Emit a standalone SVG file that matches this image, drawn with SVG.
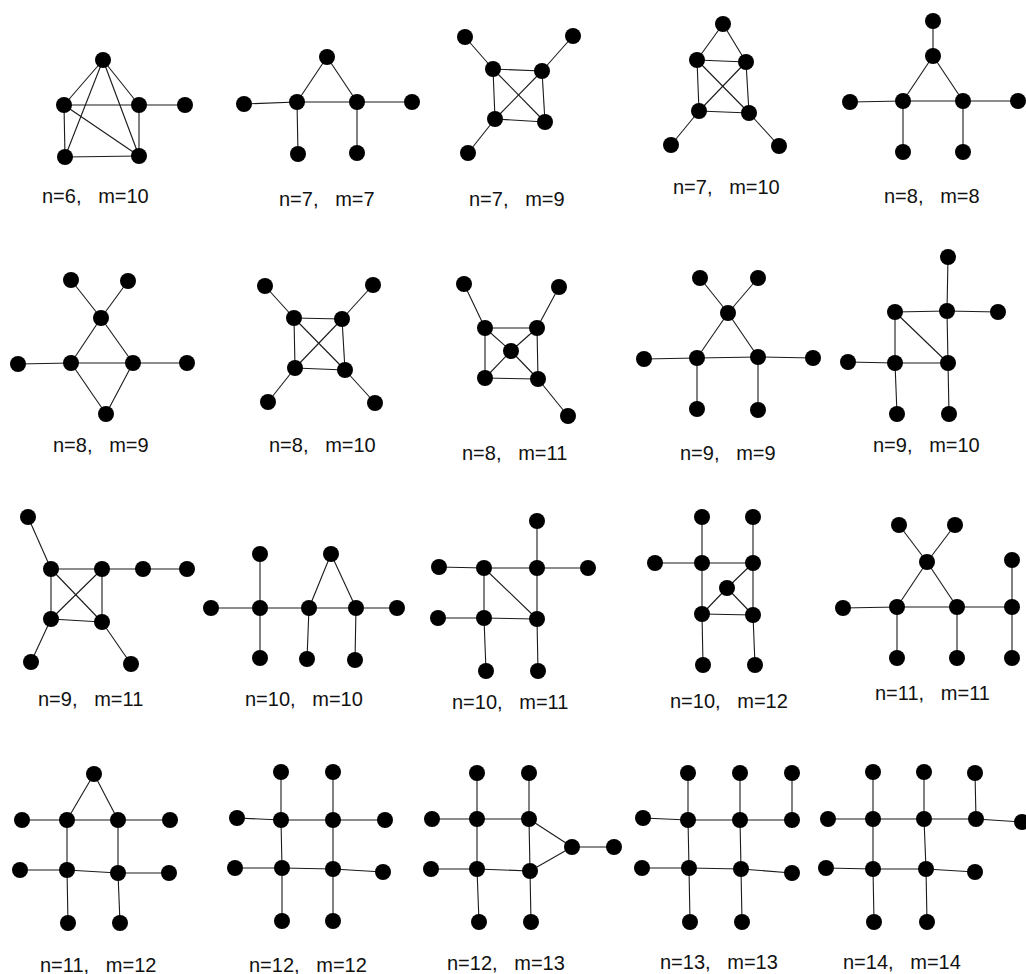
<svg xmlns="http://www.w3.org/2000/svg" width="1026" height="974" viewBox="0 0 1026 974">
<style>
.e line{stroke:#1a1a1a;stroke-width:1.1}
circle{fill:#000}
text{font-family:"Liberation Sans",Arial,sans-serif;font-size:20px;fill:#111;white-space:pre}
</style>
<rect width="1026" height="974" fill="#fff"/>
<g id="connectors" class="e">
<line x1="103" y1="60" x2="64" y2="105"/><line x1="103" y1="60" x2="139" y2="105"/><line x1="103" y1="60" x2="65" y2="157"/><line x1="103" y1="60" x2="139" y2="156"/><line x1="64" y1="105" x2="139" y2="105"/><line x1="64" y1="105" x2="65" y2="157"/><line x1="64" y1="105" x2="139" y2="156"/><line x1="139" y1="105" x2="139" y2="156"/><line x1="65" y1="157" x2="139" y2="156"/><line x1="139" y1="105" x2="185" y2="105"/>
<line x1="244" y1="104" x2="297" y2="102"/><line x1="297" y1="102" x2="357" y2="102"/><line x1="357" y1="102" x2="412" y2="102"/><line x1="297" y1="102" x2="327" y2="57"/><line x1="327" y1="57" x2="357" y2="102"/><line x1="297" y1="102" x2="298" y2="154"/><line x1="357" y1="102" x2="357" y2="153"/>
<line x1="465" y1="37" x2="493" y2="69"/><line x1="573" y1="36" x2="542" y2="71"/><line x1="468" y1="153" x2="495" y2="119"/><line x1="493" y1="69" x2="542" y2="71"/><line x1="493" y1="69" x2="495" y2="119"/><line x1="542" y1="71" x2="545" y2="122"/><line x1="495" y1="119" x2="545" y2="122"/><line x1="493" y1="69" x2="545" y2="122"/><line x1="542" y1="71" x2="495" y2="119"/>
<line x1="723" y1="24" x2="697" y2="60"/><line x1="723" y1="24" x2="746" y2="62"/><line x1="697" y1="60" x2="746" y2="62"/><line x1="697" y1="60" x2="699" y2="111"/><line x1="746" y1="62" x2="749" y2="113"/><line x1="699" y1="111" x2="749" y2="113"/><line x1="697" y1="60" x2="749" y2="113"/><line x1="746" y1="62" x2="699" y2="111"/><line x1="699" y1="111" x2="671" y2="145"/><line x1="749" y1="113" x2="779" y2="146"/>
<line x1="933" y1="21" x2="933" y2="56"/><line x1="933" y1="56" x2="903" y2="101"/><line x1="933" y1="56" x2="963" y2="101"/><line x1="903" y1="101" x2="963" y2="101"/><line x1="850" y1="102" x2="903" y2="101"/><line x1="963" y1="101" x2="1018" y2="101"/><line x1="903" y1="101" x2="903" y2="152"/><line x1="963" y1="101" x2="963" y2="152"/>
<line x1="71" y1="280" x2="101" y2="318"/><line x1="128" y1="281" x2="101" y2="318"/><line x1="101" y1="318" x2="71" y2="363"/><line x1="101" y1="318" x2="133" y2="363"/><line x1="71" y1="363" x2="133" y2="363"/><line x1="18" y1="364" x2="71" y2="363"/><line x1="133" y1="363" x2="187" y2="363"/><line x1="71" y1="363" x2="106" y2="414"/><line x1="133" y1="363" x2="106" y2="414"/>
<line x1="265" y1="286" x2="294" y2="318"/><line x1="373" y1="285" x2="342" y2="319"/><line x1="295" y1="368" x2="268" y2="402"/><line x1="345" y1="370" x2="375" y2="403"/><line x1="294" y1="318" x2="342" y2="319"/><line x1="294" y1="318" x2="295" y2="368"/><line x1="342" y1="319" x2="345" y2="370"/><line x1="295" y1="368" x2="345" y2="370"/><line x1="294" y1="318" x2="345" y2="370"/><line x1="342" y1="319" x2="295" y2="368"/>
<line x1="464" y1="284" x2="485" y2="328"/><line x1="559" y1="287" x2="537" y2="328"/><line x1="538" y1="379" x2="568" y2="416"/><line x1="485" y1="328" x2="537" y2="328"/><line x1="485" y1="328" x2="485" y2="378"/><line x1="537" y1="328" x2="538" y2="379"/><line x1="485" y1="378" x2="538" y2="379"/><line x1="511" y1="351" x2="485" y2="328"/><line x1="511" y1="351" x2="537" y2="328"/><line x1="511" y1="351" x2="485" y2="378"/><line x1="511" y1="351" x2="538" y2="379"/>
<line x1="700" y1="278" x2="728" y2="313"/><line x1="758" y1="278" x2="728" y2="313"/><line x1="728" y1="313" x2="697" y2="358"/><line x1="728" y1="313" x2="758" y2="357"/><line x1="697" y1="358" x2="758" y2="357"/><line x1="644" y1="359" x2="697" y2="358"/><line x1="758" y1="357" x2="813" y2="358"/><line x1="697" y1="358" x2="697" y2="409"/><line x1="758" y1="357" x2="758" y2="410"/>
<line x1="948" y1="257" x2="947" y2="311"/><line x1="947" y1="311" x2="998" y2="312"/><line x1="895" y1="312" x2="947" y2="311"/><line x1="895" y1="312" x2="895" y2="363"/><line x1="895" y1="312" x2="948" y2="363"/><line x1="895" y1="363" x2="948" y2="363"/><line x1="947" y1="311" x2="948" y2="363"/><line x1="848" y1="362" x2="895" y2="363"/><line x1="895" y1="363" x2="897" y2="414"/><line x1="948" y1="363" x2="949" y2="414"/>
<line x1="28" y1="517" x2="51" y2="569"/><line x1="51" y1="569" x2="102" y2="569"/><line x1="102" y1="569" x2="143" y2="569"/><line x1="143" y1="569" x2="187" y2="569"/><line x1="51" y1="569" x2="51" y2="619"/><line x1="102" y1="569" x2="102" y2="622"/><line x1="51" y1="619" x2="102" y2="622"/><line x1="51" y1="569" x2="102" y2="622"/><line x1="102" y1="569" x2="51" y2="619"/><line x1="51" y1="619" x2="31" y2="662"/><line x1="102" y1="622" x2="131" y2="664"/>
<line x1="211" y1="608" x2="260" y2="608"/><line x1="260" y1="608" x2="260" y2="554"/><line x1="260" y1="608" x2="260" y2="658"/><line x1="260" y1="608" x2="309" y2="608"/><line x1="309" y1="608" x2="307" y2="659"/><line x1="309" y1="608" x2="331" y2="554"/><line x1="331" y1="554" x2="356" y2="608"/><line x1="309" y1="608" x2="356" y2="608"/><line x1="356" y1="608" x2="355" y2="660"/><line x1="356" y1="608" x2="397" y2="608"/>
<line x1="537" y1="521" x2="537" y2="568"/><line x1="537" y1="568" x2="588" y2="568"/><line x1="484" y1="568" x2="537" y2="568"/><line x1="439" y1="567" x2="484" y2="568"/><line x1="484" y1="568" x2="484" y2="618"/><line x1="484" y1="568" x2="537" y2="619"/><line x1="537" y1="568" x2="537" y2="619"/><line x1="438" y1="618" x2="484" y2="618"/><line x1="484" y1="618" x2="537" y2="619"/><line x1="484" y1="618" x2="486" y2="671"/><line x1="537" y1="619" x2="538" y2="671"/>
<line x1="702" y1="517" x2="702" y2="563"/><line x1="753" y1="517" x2="753" y2="563"/><line x1="655" y1="563" x2="702" y2="563"/><line x1="702" y1="563" x2="753" y2="563"/><line x1="702" y1="563" x2="702" y2="614"/><line x1="753" y1="563" x2="753" y2="615"/><line x1="702" y1="614" x2="753" y2="615"/><line x1="727" y1="588" x2="753" y2="563"/><line x1="727" y1="588" x2="702" y2="614"/><line x1="727" y1="588" x2="753" y2="615"/><line x1="702" y1="614" x2="703" y2="665"/><line x1="753" y1="615" x2="755" y2="665"/>
<line x1="899" y1="525" x2="927" y2="562"/><line x1="955" y1="525" x2="927" y2="562"/><line x1="927" y1="562" x2="897" y2="607"/><line x1="927" y1="562" x2="957" y2="607"/><line x1="897" y1="607" x2="957" y2="607"/><line x1="957" y1="607" x2="1012" y2="607"/><line x1="843" y1="608" x2="897" y2="607"/><line x1="897" y1="607" x2="897" y2="658"/><line x1="957" y1="607" x2="957" y2="658"/><line x1="1012" y1="607" x2="1012" y2="560"/><line x1="1012" y1="607" x2="1012" y2="658"/>
<line x1="94" y1="774" x2="67" y2="820"/><line x1="94" y1="774" x2="118" y2="820"/><line x1="67" y1="820" x2="118" y2="820"/><line x1="22" y1="820" x2="67" y2="820"/><line x1="118" y1="820" x2="170" y2="820"/><line x1="67" y1="820" x2="67" y2="870"/><line x1="118" y1="820" x2="118" y2="873"/><line x1="67" y1="870" x2="118" y2="873"/><line x1="20" y1="870" x2="67" y2="870"/><line x1="118" y1="873" x2="169" y2="873"/><line x1="67" y1="870" x2="68" y2="923"/><line x1="118" y1="873" x2="120" y2="923"/>
<line x1="281" y1="772" x2="281" y2="820"/><line x1="333" y1="772" x2="333" y2="820"/><line x1="237" y1="818" x2="281" y2="820"/><line x1="281" y1="820" x2="333" y2="820"/><line x1="333" y1="820" x2="385" y2="820"/><line x1="281" y1="820" x2="282" y2="868"/><line x1="333" y1="820" x2="333" y2="869"/><line x1="282" y1="868" x2="333" y2="869"/><line x1="235" y1="868" x2="282" y2="868"/><line x1="333" y1="869" x2="383" y2="872"/><line x1="282" y1="868" x2="282" y2="921"/><line x1="333" y1="869" x2="333" y2="921"/>
<line x1="477" y1="773" x2="477" y2="819"/><line x1="529" y1="773" x2="529" y2="819"/><line x1="432" y1="819" x2="477" y2="819"/><line x1="477" y1="819" x2="529" y2="819"/><line x1="477" y1="819" x2="477" y2="869"/><line x1="529" y1="819" x2="530" y2="871"/><line x1="431" y1="869" x2="477" y2="869"/><line x1="477" y1="869" x2="530" y2="871"/><line x1="529" y1="819" x2="572" y2="847"/><line x1="530" y1="871" x2="572" y2="847"/><line x1="572" y1="847" x2="614" y2="847"/><line x1="477" y1="869" x2="479" y2="922"/><line x1="530" y1="871" x2="531" y2="922"/>
<line x1="688" y1="773" x2="688" y2="820"/><line x1="740" y1="773" x2="740" y2="820"/><line x1="792" y1="773" x2="792" y2="820"/><line x1="688" y1="820" x2="740" y2="820"/><line x1="740" y1="820" x2="792" y2="820"/><line x1="643" y1="818" x2="688" y2="820"/><line x1="688" y1="820" x2="689" y2="868"/><line x1="740" y1="820" x2="741" y2="869"/><line x1="689" y1="868" x2="741" y2="869"/><line x1="642" y1="868" x2="689" y2="868"/><line x1="741" y1="869" x2="792" y2="873"/><line x1="689" y1="868" x2="690" y2="922"/><line x1="741" y1="869" x2="742" y2="922"/>
<line x1="873" y1="772" x2="873" y2="819"/><line x1="924" y1="772" x2="924" y2="819"/><line x1="975" y1="773" x2="976" y2="819"/><line x1="873" y1="819" x2="924" y2="819"/><line x1="924" y1="819" x2="976" y2="819"/><line x1="976" y1="819" x2="1022" y2="822"/><line x1="828" y1="819" x2="873" y2="819"/><line x1="873" y1="819" x2="873" y2="869"/><line x1="924" y1="819" x2="926" y2="869"/><line x1="873" y1="869" x2="926" y2="869"/><line x1="826" y1="868" x2="873" y2="869"/><line x1="926" y1="869" x2="975" y2="872"/><line x1="873" y1="869" x2="874" y2="922"/><line x1="926" y1="869" x2="927" y2="922"/>
</g>
<g id="graph1">
<g id="g1-a"><circle cx="103" cy="60" r="8"/></g><g id="g1-b"><circle cx="64" cy="105" r="8"/></g><g id="g1-c"><circle cx="139" cy="105" r="8"/></g><g id="g1-d"><circle cx="185" cy="105" r="8"/></g><g id="g1-e"><circle cx="65" cy="157" r="8"/></g><g id="g1-f"><circle cx="139" cy="156" r="8"/></g>
<text x="42" y="203">n=6,   m=10</text>
</g>
<g id="graph2">
<g id="g2-a"><circle cx="244" cy="104" r="8"/></g><g id="g2-b"><circle cx="297" cy="102" r="8"/></g><g id="g2-c"><circle cx="327" cy="57" r="8"/></g><g id="g2-d"><circle cx="357" cy="102" r="8"/></g><g id="g2-e"><circle cx="412" cy="102" r="8"/></g><g id="g2-f"><circle cx="298" cy="154" r="8"/></g><g id="g2-g"><circle cx="357" cy="153" r="8"/></g>
<text x="279" y="206">n=7,   m=7</text>
</g>
<g id="graph3">
<g id="g3-a"><circle cx="465" cy="37" r="8"/></g><g id="g3-b"><circle cx="573" cy="36" r="8"/></g><g id="g3-c"><circle cx="493" cy="69" r="8"/></g><g id="g3-d"><circle cx="542" cy="71" r="8"/></g><g id="g3-e"><circle cx="495" cy="119" r="8"/></g><g id="g3-f"><circle cx="545" cy="122" r="8"/></g><g id="g3-g"><circle cx="468" cy="153" r="8"/></g>
<text x="469" y="206">n=7,   m=9</text>
</g>
<g id="graph4">
<g id="g4-a"><circle cx="723" cy="24" r="8"/></g><g id="g4-b"><circle cx="697" cy="60" r="8"/></g><g id="g4-c"><circle cx="746" cy="62" r="8"/></g><g id="g4-d"><circle cx="699" cy="111" r="8"/></g><g id="g4-e"><circle cx="749" cy="113" r="8"/></g><g id="g4-f"><circle cx="671" cy="145" r="8"/></g><g id="g4-g"><circle cx="779" cy="146" r="8"/></g>
<text x="673" y="194">n=7,   m=10</text>
</g>
<g id="graph5">
<g id="g5-a"><circle cx="933" cy="21" r="8"/></g><g id="g5-b"><circle cx="933" cy="56" r="8"/></g><g id="g5-c"><circle cx="903" cy="101" r="8"/></g><g id="g5-d"><circle cx="963" cy="101" r="8"/></g><g id="g5-e"><circle cx="850" cy="102" r="8"/></g><g id="g5-f"><circle cx="1018" cy="101" r="8"/></g><g id="g5-g"><circle cx="903" cy="152" r="8"/></g><g id="g5-h"><circle cx="963" cy="152" r="8"/></g>
<text x="884" y="203">n=8,   m=8</text>
</g>
<g id="graph6">
<g id="g6-a"><circle cx="71" cy="280" r="8"/></g><g id="g6-b"><circle cx="128" cy="281" r="8"/></g><g id="g6-c"><circle cx="101" cy="318" r="8"/></g><g id="g6-d"><circle cx="71" cy="363" r="8"/></g><g id="g6-e"><circle cx="133" cy="363" r="8"/></g><g id="g6-f"><circle cx="18" cy="364" r="8"/></g><g id="g6-g"><circle cx="187" cy="363" r="8"/></g><g id="g6-h"><circle cx="106" cy="414" r="8"/></g>
<text x="53" y="452">n=8,   m=9</text>
</g>
<g id="graph7">
<g id="g7-a"><circle cx="265" cy="286" r="8"/></g><g id="g7-b"><circle cx="373" cy="285" r="8"/></g><g id="g7-c"><circle cx="294" cy="318" r="8"/></g><g id="g7-d"><circle cx="342" cy="319" r="8"/></g><g id="g7-e"><circle cx="295" cy="368" r="8"/></g><g id="g7-f"><circle cx="345" cy="370" r="8"/></g><g id="g7-g"><circle cx="268" cy="402" r="8"/></g><g id="g7-h"><circle cx="375" cy="403" r="8"/></g>
<text x="269" y="452">n=8,   m=10</text>
</g>
<g id="graph8">
<g id="g8-a"><circle cx="464" cy="284" r="8"/></g><g id="g8-b"><circle cx="559" cy="287" r="8"/></g><g id="g8-c"><circle cx="485" cy="328" r="8"/></g><g id="g8-d"><circle cx="537" cy="328" r="8"/></g><g id="g8-e"><circle cx="511" cy="351" r="8"/></g><g id="g8-f"><circle cx="485" cy="378" r="8"/></g><g id="g8-g"><circle cx="538" cy="379" r="8"/></g><g id="g8-h"><circle cx="568" cy="416" r="8"/></g>
<text x="462" y="460">n=8,   m=11</text>
</g>
<g id="graph9">
<g id="g9-a"><circle cx="700" cy="278" r="8"/></g><g id="g9-b"><circle cx="758" cy="278" r="8"/></g><g id="g9-c"><circle cx="728" cy="313" r="8"/></g><g id="g9-d"><circle cx="697" cy="358" r="8"/></g><g id="g9-e"><circle cx="758" cy="357" r="8"/></g><g id="g9-f"><circle cx="644" cy="359" r="8"/></g><g id="g9-g"><circle cx="813" cy="358" r="8"/></g><g id="g9-h"><circle cx="697" cy="409" r="8"/></g><g id="g9-i"><circle cx="758" cy="410" r="8"/></g>
<text x="680" y="460">n=9,   m=9</text>
</g>
<g id="graph10">
<g id="g10-a"><circle cx="948" cy="257" r="8"/></g><g id="g10-b"><circle cx="947" cy="311" r="8"/></g><g id="g10-c"><circle cx="998" cy="312" r="8"/></g><g id="g10-d"><circle cx="895" cy="312" r="8"/></g><g id="g10-e"><circle cx="895" cy="363" r="8"/></g><g id="g10-f"><circle cx="948" cy="363" r="8"/></g><g id="g10-g"><circle cx="848" cy="362" r="8"/></g><g id="g10-h"><circle cx="897" cy="414" r="8"/></g><g id="g10-i"><circle cx="949" cy="414" r="8"/></g>
<text x="873" y="452">n=9,   m=10</text>
</g>
<g id="graph11">
<g id="g11-a"><circle cx="28" cy="517" r="8"/></g><g id="g11-b"><circle cx="51" cy="569" r="8"/></g><g id="g11-c"><circle cx="102" cy="569" r="8"/></g><g id="g11-d"><circle cx="51" cy="619" r="8"/></g><g id="g11-e"><circle cx="102" cy="622" r="8"/></g><g id="g11-f"><circle cx="143" cy="569" r="8"/></g><g id="g11-g"><circle cx="187" cy="569" r="8"/></g><g id="g11-h"><circle cx="31" cy="662" r="8"/></g><g id="g11-i"><circle cx="131" cy="664" r="8"/></g>
<text x="38" y="706">n=9,   m=11</text>
</g>
<g id="graph12">
<g id="g12-a"><circle cx="211" cy="608" r="8"/></g><g id="g12-b"><circle cx="260" cy="608" r="8"/></g><g id="g12-c"><circle cx="260" cy="554" r="8"/></g><g id="g12-d"><circle cx="260" cy="658" r="8"/></g><g id="g12-e"><circle cx="309" cy="608" r="8"/></g><g id="g12-f"><circle cx="307" cy="659" r="8"/></g><g id="g12-g"><circle cx="331" cy="554" r="8"/></g><g id="g12-h"><circle cx="356" cy="608" r="8"/></g><g id="g12-i"><circle cx="355" cy="660" r="8"/></g><g id="g12-j"><circle cx="397" cy="608" r="8"/></g>
<text x="245" y="706">n=10,   m=10</text>
</g>
<g id="graph13">
<g id="g13-a"><circle cx="537" cy="521" r="8"/></g><g id="g13-b"><circle cx="537" cy="568" r="8"/></g><g id="g13-c"><circle cx="588" cy="568" r="8"/></g><g id="g13-d"><circle cx="484" cy="568" r="8"/></g><g id="g13-e"><circle cx="439" cy="567" r="8"/></g><g id="g13-f"><circle cx="484" cy="618" r="8"/></g><g id="g13-g"><circle cx="438" cy="618" r="8"/></g><g id="g13-h"><circle cx="537" cy="619" r="8"/></g><g id="g13-i"><circle cx="486" cy="671" r="8"/></g><g id="g13-j"><circle cx="538" cy="671" r="8"/></g>
<text x="452" y="709">n=10,   m=11</text>
</g>
<g id="graph14">
<g id="g14-a"><circle cx="655" cy="563" r="8"/></g><g id="g14-b"><circle cx="702" cy="563" r="8"/></g><g id="g14-c"><circle cx="753" cy="563" r="8"/></g><g id="g14-d"><circle cx="702" cy="517" r="8"/></g><g id="g14-e"><circle cx="753" cy="517" r="8"/></g><g id="g14-f"><circle cx="727" cy="588" r="8"/></g><g id="g14-g"><circle cx="702" cy="614" r="8"/></g><g id="g14-h"><circle cx="753" cy="615" r="8"/></g><g id="g14-i"><circle cx="703" cy="665" r="8"/></g><g id="g14-j"><circle cx="755" cy="665" r="8"/></g>
<text x="670" y="708">n=10,   m=12</text>
</g>
<g id="graph15">
<g id="g15-a"><circle cx="899" cy="525" r="8"/></g><g id="g15-b"><circle cx="955" cy="525" r="8"/></g><g id="g15-c"><circle cx="927" cy="562" r="8"/></g><g id="g15-d"><circle cx="897" cy="607" r="8"/></g><g id="g15-e"><circle cx="957" cy="607" r="8"/></g><g id="g15-f"><circle cx="843" cy="608" r="8"/></g><g id="g15-g"><circle cx="1012" cy="607" r="8"/></g><g id="g15-h"><circle cx="1012" cy="560" r="8"/></g><g id="g15-i"><circle cx="897" cy="658" r="8"/></g><g id="g15-j"><circle cx="957" cy="658" r="8"/></g><g id="g15-k"><circle cx="1012" cy="658" r="8"/></g>
<text x="875" y="700">n=11,   m=11</text>
</g>
<g id="graph16">
<g id="g16-a"><circle cx="94" cy="774" r="8"/></g><g id="g16-b"><circle cx="67" cy="820" r="8"/></g><g id="g16-c"><circle cx="118" cy="820" r="8"/></g><g id="g16-d"><circle cx="22" cy="820" r="8"/></g><g id="g16-e"><circle cx="170" cy="820" r="8"/></g><g id="g16-f"><circle cx="67" cy="870" r="8"/></g><g id="g16-g"><circle cx="118" cy="873" r="8"/></g><g id="g16-h"><circle cx="20" cy="870" r="8"/></g><g id="g16-i"><circle cx="169" cy="873" r="8"/></g><g id="g16-j"><circle cx="68" cy="923" r="8"/></g><g id="g16-k"><circle cx="120" cy="923" r="8"/></g>
<text x="40" y="972">n=11,   m=12</text>
</g>
<g id="graph17">
<g id="g17-a"><circle cx="281" cy="772" r="8"/></g><g id="g17-b"><circle cx="333" cy="772" r="8"/></g><g id="g17-c"><circle cx="281" cy="820" r="8"/></g><g id="g17-d"><circle cx="333" cy="820" r="8"/></g><g id="g17-e"><circle cx="237" cy="818" r="8"/></g><g id="g17-f"><circle cx="385" cy="820" r="8"/></g><g id="g17-g"><circle cx="282" cy="868" r="8"/></g><g id="g17-h"><circle cx="333" cy="869" r="8"/></g><g id="g17-i"><circle cx="235" cy="868" r="8"/></g><g id="g17-j"><circle cx="383" cy="872" r="8"/></g><g id="g17-k"><circle cx="282" cy="921" r="8"/></g><g id="g17-l"><circle cx="333" cy="921" r="8"/></g>
<text x="249" y="972">n=12,   m=12</text>
</g>
<g id="graph18">
<g id="g18-a"><circle cx="477" cy="773" r="8"/></g><g id="g18-b"><circle cx="529" cy="773" r="8"/></g><g id="g18-c"><circle cx="432" cy="819" r="8"/></g><g id="g18-d"><circle cx="477" cy="819" r="8"/></g><g id="g18-e"><circle cx="529" cy="819" r="8"/></g><g id="g18-f"><circle cx="572" cy="847" r="8"/></g><g id="g18-g"><circle cx="614" cy="847" r="8"/></g><g id="g18-h"><circle cx="431" cy="869" r="8"/></g><g id="g18-i"><circle cx="477" cy="869" r="8"/></g><g id="g18-j"><circle cx="530" cy="871" r="8"/></g><g id="g18-k"><circle cx="479" cy="922" r="8"/></g><g id="g18-l"><circle cx="531" cy="922" r="8"/></g>
<text x="447" y="970">n=12,   m=13</text>
</g>
<g id="graph19">
<g id="g19-a"><circle cx="643" cy="818" r="8"/></g><g id="g19-b"><circle cx="642" cy="868" r="8"/></g><g id="g19-c"><circle cx="688" cy="773" r="8"/></g><g id="g19-d"><circle cx="740" cy="773" r="8"/></g><g id="g19-e"><circle cx="792" cy="773" r="8"/></g><g id="g19-f"><circle cx="688" cy="820" r="8"/></g><g id="g19-g"><circle cx="740" cy="820" r="8"/></g><g id="g19-h"><circle cx="792" cy="820" r="8"/></g><g id="g19-i"><circle cx="689" cy="868" r="8"/></g><g id="g19-j"><circle cx="741" cy="869" r="8"/></g><g id="g19-k"><circle cx="792" cy="873" r="8"/></g><g id="g19-l"><circle cx="690" cy="922" r="8"/></g><g id="g19-m"><circle cx="742" cy="922" r="8"/></g>
<text x="660" y="969">n=13,   m=13</text>
</g>
<g id="graph20">
<g id="g20-a"><circle cx="828" cy="819" r="8"/></g><g id="g20-b"><circle cx="873" cy="772" r="8"/></g><g id="g20-c"><circle cx="924" cy="772" r="8"/></g><g id="g20-d"><circle cx="975" cy="773" r="8"/></g><g id="g20-e"><circle cx="873" cy="819" r="8"/></g><g id="g20-f"><circle cx="924" cy="819" r="8"/></g><g id="g20-g"><circle cx="976" cy="819" r="8"/></g><g id="g20-h"><circle cx="1022" cy="822" r="8"/></g><g id="g20-i"><circle cx="826" cy="868" r="8"/></g><g id="g20-j"><circle cx="873" cy="869" r="8"/></g><g id="g20-k"><circle cx="926" cy="869" r="8"/></g><g id="g20-l"><circle cx="975" cy="872" r="8"/></g><g id="g20-m"><circle cx="874" cy="922" r="8"/></g><g id="g20-n"><circle cx="927" cy="922" r="8"/></g>
<text x="843" y="969">n=14,   m=14</text>
</g>
</svg>
